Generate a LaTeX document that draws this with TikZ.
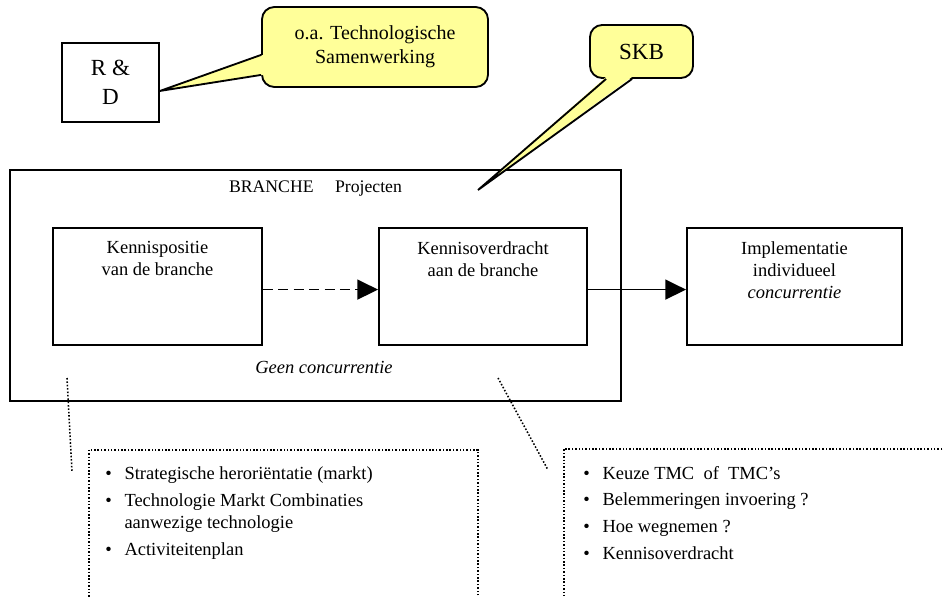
\documentclass[tikz,border=0pt]{standalone}
\usepackage{fontspec}
\setmainfont{Liberation Serif}
\usetikzlibrary{arrows.meta,calc,positioning}
\definecolor{ballongeel}{RGB}{255,255,153}
\newcommand{\lijstpunt}{\makebox[12.5pt][l]{\textbullet}}

\begin{document}
\begin{tikzpicture}[x=0.65pt,y=-0.65pt,
  kader/.style={draw,line width=1.2pt,inner sep=0pt},
  ballon/.style={draw,line width=1.2pt,fill=ballongeel,rounded corners=8pt,inner sep=0pt,align=center},
  tekst/.style={inner sep=0pt,align=center,font=\fontsize{12}{14.3}\selectfont},
  stip/.style={line width=1pt,dash pattern=on 1pt off 1.2pt},
  pijl/.style={line width=1pt,-{Triangle[length=13.5pt,width=13pt]}}]
  \useasboundingbox (0,0) rectangle (943,596);
  \clip (0,0) rectangle (943,596);

  % Branche kader
  \node[kader,minimum width=397.2pt,minimum height=150.2pt] (branche) at (315.5,285.5) {};
  \node[tekst,font=\fontsize{11.5}{13}\selectfont,below=7.5pt of branche.north] (kop) {BRANCHE\hspace{14pt}Projecten};
  \node[tekst,font=\itshape\fontsize{12}{14.3}\selectfont,above=18pt of branche.south,xshift=5.5pt] (geen) {Geen concurrentie};

  % Blokken
  \node[kader,minimum width=135.9pt,minimum height=76pt] (kp) at (157.5,286.5) {};
  \node[kader,minimum width=135.2pt,minimum height=76pt] (ko) at (483,286.5) {};
  \node[kader,minimum width=139.8pt,minimum height=76pt] (impl) at (794.5,286.5) {};
  \node[tekst,below=9pt of kp.north] (kptekst) {Kennispositie\\van de branche};
  \node[tekst,below=9pt of ko.north] (kotekst) {Kennisoverdracht\\aan de branche};
  \node[tekst,below=9pt of impl.north] (impltekst) {Implementatie\\individueel\\\textit{concurrentie}};

  % Pijlen
  \draw[pijl,dash pattern=on 6.5pt off 3.5pt] ([yshift=-2pt]kp.east) -- ([yshift=-2pt]ko.west);
  \draw[pijl] ([yshift=-2pt]ko.east) -- ([yshift=-2pt]impl.west);

  % R & D met ballon
  \node[kader,minimum width=63pt,minimum height=51.4pt,align=center,font=\fontsize{15}{18.9}\selectfont] (rd) at (110.5,82.5) {R \&\\D};
  \node[ballon,minimum width=146.9pt,minimum height=52pt,font=\fontsize{13}{15.6}\selectfont] (samen) at (375,47) {o.a. Technologische\\Samenwerking};
  \fill[ballongeel] ($(samen.south west)+(2,-13)$) -- ([yshift=-5.5pt]rd.east) -- ($(samen.south west)+(2,-33)$) -- cycle;
  \draw[line width=1.2pt] ($(samen.south west)+(0,-13)$) -- ([yshift=-5.5pt]rd.east) -- ($(samen.south west)+(0,-33)$);

  % SKB ballon
  \node[ballon,minimum width=67pt,minimum height=34.5pt,font=\fontsize{15}{18}\selectfont] (skb) at (641.5,51.5) {SKB};
  \coordinate (skbpunt) at (478,190);
  \fill[ballongeel] ($(skb.south west)+(17,-2)$) -- (skbpunt) -- ($(skb.south west)+(43,-2)$) -- cycle;
  \draw[line width=1.2pt] ($(skb.south west)+(17,0)$) -- (skbpunt) -- ($(skb.south west)+(43,0)$);

  % Stippellijnen en lijsten
  \coordinate (l1) at (67,378);
  \coordinate (l2) at (72,472);
  \coordinate (r1) at (498,378);
  \coordinate (r2) at (548,470);
  \draw[stip] (l1) -- (l2);
  \draw[stip] (r1) -- (r2);
  \node[kader,stip,minimum width=252.9pt,minimum height=130pt,anchor=north west] (links) at (88,449) {};
  \node[kader,stip,minimum width=300pt,minimum height=130pt,anchor=north west] (rechts) at (563,448) {};
  \node[tekst,align=left,anchor=north west] (lijstl) at ($(links.north west)+(17,17)$)
    {\lijstpunt Strategische heroriëntatie (markt)\\[3.5pt]
     \lijstpunt Technologie Markt Combinaties\\
     \hspace*{12.5pt}aanwezige technologie\\[3.5pt]
     \lijstpunt Activiteitenplan};
  \node[tekst,align=left,anchor=north west] (lijstr) at ($(rechts.north west)+(20,18)$)
    {\lijstpunt Keuze TMC\ \ of\ \ TMC’s\\[3pt]
     \lijstpunt Belemmeringen invoering ?\\[3pt]
     \lijstpunt Hoe wegnemen ?\\[3pt]
     \lijstpunt Kennisoverdracht};
\end{tikzpicture}
\end{document}
